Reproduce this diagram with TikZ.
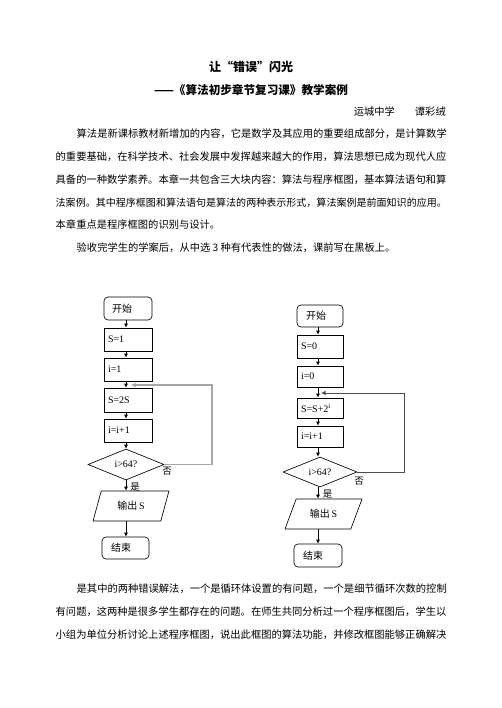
\documentclass[tikz,border=0pt]{standalone}
\usepackage{fontspec}
\setmainfont{Liberation Serif}
\newfontfamily\cjk{Noto Sans CJK SC}
\usetikzlibrary{shapes.geometric,arrows.meta}
\tikzset{
  line/.style={anchor=west,inner sep=0pt,font=\cjk\fontsize{10.28pt}{12pt}\selectfont},
  box/.style={draw,line width=0.65pt,text width=40pt,inner xsep=4pt,inner ysep=0pt,align=left,font=\fontsize{10pt}{12pt}\selectfont},
  term/.style={box,rounded corners=4pt},
  dia/.style={draw,line width=0.65pt,diamond,aspect=2.5,inner sep=0pt,font=\fontsize{10pt}{12pt}\selectfont},
  para/.style={draw,line width=0.65pt,trapezium,trapezium stretches=true,inner sep=0pt,font=\fontsize{10pt}{12pt}\selectfont},
  arr/.style={line width=0.8pt,-{Latex[length=4pt,width=4pt]}},
  loopA/.style={draw=gray!70,line width=1.5pt,-{Latex[length=4.5pt,width=4.5pt]}},
  loopB/.style={draw=black!70,line width=0.9pt,-{Latex[length=4.5pt,width=4.5pt]}},
  lab/.style={inner sep=0pt,font=\cjk\fontsize{9.5pt}{11pt}\selectfont}
}
\begin{document}
\begin{tikzpicture}[x=1pt,y=1pt]
\useasboundingbox[fill=white] (0,0) rectangle (502,-708);

% heading
\node[inner sep=0pt,font=\cjk\bfseries\fontsize{12pt}{14pt}\selectfont] (title) at (251,-67) {让“错误”闪光};
\node[inner sep=0pt,font=\cjk\bfseries\fontsize{11.6pt}{14pt}\selectfont] (sub) at (251,-90) {——《算法初步章节复习课》教学案例};
\node[inner sep=0pt,anchor=east,font=\cjk\fontsize{10.28pt}{12pt}\selectfont] (auth) at (446,-112) {运城中学\hspace{20pt}谭彩绒};

% paragraphs
\node[line] (p1) at (76.5,-134) {算法是新课标教材新增加的内容，它是数学及其应用的重要组成部分，是计算数学};
\node[line] (p2) at (55.5,-157) {的重要基础，在科学技术、社会发展中发挥越来越大的作用，算法思想已成为现代人应};
\node[line] (p3) at (55.5,-180) {具备的一种数学素养。本章一共包含三大块内容：算法与程序框图，基本算法语句和算};
\node[line,font=\cjk\fontsize{10.03pt}{12pt}\selectfont] (p4) at (55.5,-203) {法案例。其中程序框图和算法语句是算法的两种表示形式，算法案例是前面知识的应用。};
\node[line] (p5) at (55.5,-225) {本章重点是程序框图的识别与设计。};
\node[line] (p6) at (76.5,-248) {验收完学生的学案后，从中选 3 种有代表性的做法，课前写在黑板上。};

\node[line] (q1) at (76.5,-589) {是其中的两种错误解法，一个是循环体设置的有问题，一个是细节循环次数的控制};
\node[line] (q2) at (55.5,-612) {有问题，这两种是很多学生都存在的问题。在师生共同分析过一个程序框图后，学生以};
\node[line] (q3) at (55.5,-635) {小组为单位分析讨论上述程序框图，说出此框图的算法功能，并修改框图能够正确解决};

% ---- left flowchart ----
\coordinate (lx) at (126,0);
\coordinate (lr) at (212,0);
\coordinate (lm) at (131,-385);
\node[term,minimum height=23pt] (ls) at (128,-308.5) {\hspace{4pt}{\cjk 开始}};
\node[box,minimum height=23pt] (ls1) at (128,-339.5) {S=1};
\node[box,minimum height=23pt] (li1) at (128,-369.5) {i=1};
\node[box,minimum height=24pt] (ls2) at (128,-400) {S=2S};
\node[box,minimum height=23pt] (lii) at (128,-430.5) {i=i+1};
\node[dia,minimum width=76pt,minimum height=31pt] (ld) at (126,-464.5) {i\textgreater64?};
\node[para,minimum width=76pt,minimum height=30pt,trapezium left angle=68,trapezium right angle=112] (lo) at (131,-506) {{\cjk 输出}\,S};
\node[term,text width=39pt,minimum height=22pt] (le) at (125.5,-548) {\hspace{5pt}{\cjk 结束}};

\draw[arr] (ls.south -| lx) -- (ls1.north -| lx);
\draw[arr] (ls1.south -| lx) -- (li1.north -| lx);
\draw[arr] (li1.south -| lx) -- (ls2.north -| lx);
\draw[arr] (ls2.south -| lx) -- (lii.north -| lx);
\draw[arr] (lii.south -| lx) -- (ld.north);
\draw[arr] (ld.south) -- (lo.north -| ld.south);
\draw[arr] (lo.south -| lx) -- (le.north -| lx);
\draw[loopA] (ld.east) -- (ld.east -| lr) -- (lr |- lm) -- (lm);
\node[lab] (lno) at (167,-471) {否};
\node[lab] (lyes) at (135,-487) {是};

% ---- right flowchart ----
\coordinate (rx) at (318,0);
\coordinate (rr) at (404,0);
\coordinate (rm) at (321,-393);
\node[term,text width=38pt,minimum height=22pt] (rs) at (320,-316) {\hspace{5pt}{\cjk 开始}};
\node[box,text width=38pt,minimum height=23pt] (rs0) at (320,-346.5) {S=0};
\node[box,text width=38pt,minimum height=21pt] (ri0) at (320,-376.5) {i=0};
\node[box,text width=38pt,minimum height=20pt] (rss) at (320,-408) {S=S+2\textsuperscript{\scriptsize i}};
\node[box,text width=38pt,minimum height=21pt] (rii) at (320,-436.5) {i=i+1};
\node[dia,minimum width=74pt,minimum height=30pt] (rd) at (320,-472) {i\textgreater64?};
\node[para,minimum width=77pt,minimum height=30pt,trapezium left angle=59,trapezium right angle=121] (ro) at (323.5,-514) {{\cjk 输出}\,S};
\node[term,minimum height=23pt] (re) at (318,-555.5) {\hspace{5pt}{\cjk 结束}};

\draw[arr] (rs.south -| rx) -- (rs0.north -| rx);
\draw[arr] (rs0.south -| rx) -- (ri0.north -| rx);
\draw[arr] (ri0.south -| rx) -- (rss.north -| rx);
\draw[arr] (rss.south -| rx) -- (rii.north -| rx);
\draw[arr] (rii.south -| rx) -- (rd.north -| rx);
\draw[arr] (rd.south -| rx) -- (ro.north -| rx);
\draw[arr] (ro.south -| rx) -- (re.north -| rx);
\draw[loopB] (rd.east) -- (rd.east -| rr) -- (rr |- rm) -- (rm);
\node[lab] (rno) at (359,-481) {否};
\node[lab] (ryes) at (327.5,-494.5) {是};
\end{tikzpicture}
\end{document}
